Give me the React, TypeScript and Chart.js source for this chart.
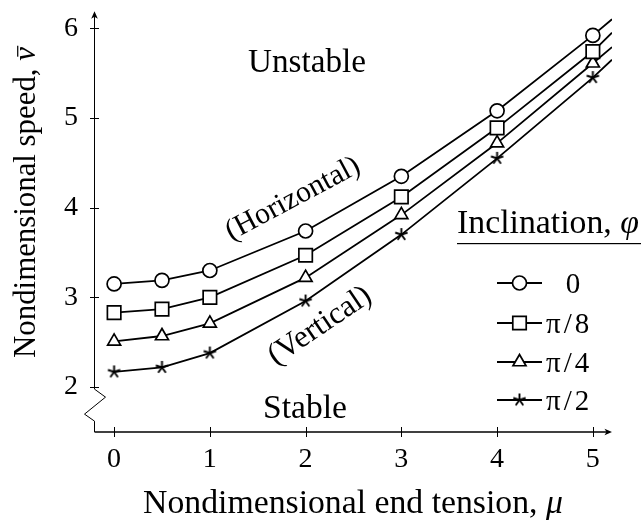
import React, { useEffect, useRef } from 'react';
import { Chart, registerables } from 'chart.js';

Chart.register(...registerables);

// ---- data ----
const tensionMu = [0, 0.5, 1, 2, 3, 4, 5, 5.2];
// the last value of every series is only the continuation of the curve (no marker)
const hasMarker = [true, true, true, true, true, true, true, false];
const speedPhi0 = [3.15, 3.19, 3.3, 3.74, 4.35, 5.08, 5.92, 6.1];
const speedPhiPi8 = [2.83, 2.87, 3.0, 3.47, 4.12, 4.89, 5.74, 5.95];
const speedPhiPi4 = [2.51, 2.57, 2.71, 3.22, 3.92, 4.72, 5.61, 5.79];
const speedPhiPi2 = [2.17, 2.22, 2.38, 2.96, 3.7, 4.55, 5.45, 5.65];
const inclinationLabels = ['0', 'π/8', 'π/4', 'π/2'];
const xTicks = [0, 1, 2, 3, 4, 5];
const yTicks = [2, 3, 4, 5, 6];

const SERIF = '"Liberation Serif", "Times New Roman", "DejaVu Serif", serif';

type Part = { t: string; italic?: boolean; bar?: boolean };

function partsWidth(ctx: CanvasRenderingContext2D, parts: Part[], size: number) {
  let w = 0;
  for (const p of parts) {
    ctx.font = `${p.italic ? 'italic ' : ''}${size}px ${SERIF}`;
    w += ctx.measureText(p.t).width;
  }
  return w;
}

function fitSize(ctx: CanvasRenderingContext2D, parts: Part[], target: number, base = 32) {
  return (base * target) / partsWidth(ctx, parts, base);
}

function drawParts(
  ctx: CanvasRenderingContext2D,
  parts: Part[],
  size: number,
  x: number,
  y: number,
  align: 'left' | 'center'
) {
  const total = partsWidth(ctx, parts, size);
  let cx = align === 'center' ? x - total / 2 : x;
  ctx.textAlign = 'left';
  ctx.textBaseline = 'alphabetic';
  for (const p of parts) {
    ctx.font = `${p.italic ? 'italic ' : ''}${size}px ${SERIF}`;
    ctx.fillText(p.t, cx, y);
    const w = ctx.measureText(p.t).width;
    if (p.bar) {
      const by = y - size * 0.58;
      ctx.fillRect(cx + w * 0.3, by, w * 0.8, Math.max(1, size * 0.04));
    }
    cx += w;
  }
}

function drawRotated(
  ctx: CanvasRenderingContext2D,
  text: string,
  targetWidth: number,
  cx: number,
  cy: number,
  deg: number
) {
  const parts = [{ t: text }];
  const size = fitSize(ctx, parts, targetWidth);
  ctx.save();
  ctx.translate(cx, cy);
  ctx.rotate((deg * Math.PI) / 180);
  ctx.font = `${size}px ${SERIF}`;
  ctx.textAlign = 'center';
  ctx.textBaseline = 'middle';
  ctx.fillText(text, 0, 0);
  ctx.restore();
}

function makeStar(arm: number, lw: number) {
  const size = Math.ceil(2 * arm + 2 * lw + 2);
  const c = document.createElement('canvas');
  c.width = size;
  c.height = size;
  const g = c.getContext('2d')!;
  g.strokeStyle = '#000';
  g.lineWidth = lw;
  const cx = size / 2;
  const cy = size / 2;
  g.beginPath();
  for (let k = 0; k < 5; k++) {
    const a = -Math.PI / 2 + (k * 2 * Math.PI) / 5;
    g.moveTo(cx, cy);
    g.lineTo(cx + arm * Math.cos(a), cy + arm * Math.sin(a));
  }
  g.stroke();
  return c;
}

function drawMarker(ctx: CanvasRenderingContext2D, style: any, r: number, x: number, y: number) {
  if (style && typeof style === 'object') {
    ctx.drawImage(style, x - style.width / 2, y - style.height / 2);
    return;
  }
  ctx.save();
  ctx.fillStyle = '#fff';
  ctx.strokeStyle = '#000';
  ctx.lineWidth = 1.7;
  ctx.beginPath();
  if (style === 'circle') {
    ctx.arc(x, y, r, 0, Math.PI * 2);
  } else if (style === 'rect') {
    const s = Math.SQRT1_2 * r;
    ctx.rect(x - s, y - s, 2 * s, 2 * s);
  } else if (style === 'triangle') {
    for (let k = 0; k < 3; k++) {
      const a = (k * 2 * Math.PI) / 3;
      const px = x + Math.sin(a) * r;
      const py = y - Math.cos(a) * r;
      if (k === 0) ctx.moveTo(px, py);
      else ctx.lineTo(px, py);
    }
    ctx.closePath();
  }
  ctx.fill();
  ctx.stroke();
  ctx.restore();
}

const decorPlugin = {
  id: 'decor',
  beforeDatasetsDraw(chart: any) {
    const { ctx, chartArea, scales } = chart;
    const xs = scales.x;
    const ys = scales.y;
    const ax = Math.floor(chartArea.left) + 0.5;
    const ay = chartArea.bottom;
    const top = chartArea.top;
    const right = chartArea.right;
    const yBreak = ys.getPixelForValue(yTicks[0]);
    ctx.save();
    ctx.strokeStyle = '#000';
    ctx.fillStyle = '#000';
    // x axis
    ctx.lineWidth = 1.3;
    ctx.beginPath();
    ctx.moveTo(ax, ay);
    ctx.lineTo(right - 4, ay);
    ctx.stroke();
    ctx.beginPath();
    ctx.moveTo(right, ay);
    ctx.lineTo(right - 7.5, ay - 3.3);
    ctx.lineTo(right - 5.5, ay);
    ctx.lineTo(right - 7.5, ay + 3.3);
    ctx.closePath();
    ctx.fill();
    // y axis with break symbol
    ctx.lineWidth = 1;
    ctx.beginPath();
    ctx.moveTo(ax, top + 4);
    ctx.lineTo(ax, yBreak + 2);
    ctx.lineTo(ax + 11, yBreak + 10);
    ctx.lineTo(ax - 10, yBreak + 27);
    ctx.lineTo(ax, yBreak + 34);
    ctx.lineTo(ax, ay);
    ctx.stroke();
    ctx.beginPath();
    ctx.moveTo(ax, top);
    ctx.lineTo(ax - 3.3, top + 7.5);
    ctx.lineTo(ax, top + 5.5);
    ctx.lineTo(ax + 3.3, top + 7.5);
    ctx.closePath();
    ctx.fill();
    // tick marks
    for (const v of xTicks) {
      const px = Math.round(xs.getPixelForValue(v)) + 0.5;
      ctx.beginPath();
      ctx.moveTo(px, ay - 5);
      ctx.lineTo(px, ay + 5);
      ctx.stroke();
    }
    for (const v of yTicks) {
      const py = Math.round(ys.getPixelForValue(v)) + 0.5;
      ctx.beginPath();
      ctx.moveTo(ax - 4.5, py);
      ctx.lineTo(ax + 4.5, py);
      ctx.stroke();
    }
    ctx.restore();
  },
  afterDraw(chart: any) {
    const ctx: CanvasRenderingContext2D = chart.ctx;
    ctx.save();
    ctx.fillStyle = '#000';

    // axis titles
    const yTitle: Part[] = [{ t: 'Nondimensional speed, ' }, { t: 'v', italic: true, bar: true }];
    ctx.save();
    ctx.translate(35, 202.5);
    ctx.rotate(-Math.PI / 2);
    drawParts(ctx, yTitle, fitSize(ctx, yTitle, 311), 0, 0, 'center');
    ctx.restore();

    const xTitle: Part[] = [{ t: 'Nondimensional end tension, ' }, { t: 'μ', italic: true }];
    drawParts(ctx, xTitle, fitSize(ctx, xTitle, 420), 353, 513, 'center');

    // region labels
    const un: Part[] = [{ t: 'Unstable' }];
    drawParts(ctx, un, fitSize(ctx, un, 118), 307, 72, 'center');
    const st: Part[] = [{ t: 'Stable' }];
    drawParts(ctx, st, fitSize(ctx, st, 84), 305, 418, 'center');

    drawRotated(ctx, '(Horizontal)', 148, 293, 199, -28);
    drawRotated(ctx, '(Vertical)', 118, 320, 326, -34);

    // legend
    const lt: Part[] = [{ t: 'Inclination, ' }, { t: 'φ', italic: true }];
    drawParts(ctx, lt, fitSize(ctx, lt, 182), 457, 233, 'left');
    ctx.fillRect(457, 243, 184, 1.2);

    const legendYs = [283, 323, 362, 400];
    chart.data.datasets.forEach((ds: any, i: number) => {
      const yy = legendYs[i];
      ctx.strokeStyle = '#000';
      ctx.lineWidth = 1.8;
      ctx.beginPath();
      ctx.moveTo(497, yy);
      ctx.lineTo(542, yy);
      ctx.stroke();
      const r = Array.isArray(ds.pointRadius) ? ds.pointRadius[0] : ds.pointRadius;
      drawMarker(ctx, ds.pointStyle, r, 519.5, yy);
      ctx.font = `29px ${SERIF}`;
      ctx.textBaseline = 'alphabetic';
      if (ds.label === '0') {
        ctx.textAlign = 'center';
        ctx.fillText(ds.label, 573, yy + 9.5);
      } else {
        ctx.textAlign = 'left';
        (ctx as any).letterSpacing = '3px';
        ctx.fillText(ds.label, 546, yy + 9.5);
        (ctx as any).letterSpacing = '0px';
      }
    });
    ctx.restore();
  },
};

export default function App() {
  const ref = useRef<HTMLCanvasElement>(null);

  useEffect(() => {
    const canvas = ref.current;
    if (!canvas) return;
    const star = makeStar(6.5, 1.9);
    const markers: { style: any; r: number }[] = [
      { style: 'circle', r: 7 },
      { style: 'rect', r: 9.5 },
      { style: 'triangle', r: 7.5 },
      { style: star, r: 6.5 },
    ];
    const series = [speedPhi0, speedPhiPi8, speedPhiPi4, speedPhiPi2];
    const tickFont = { family: SERIF, size: 28 };

    const chart = new Chart(canvas, {
      type: 'line',
      data: {
        datasets: series.map((vals, i) => ({
          label: inclinationLabels[i],
          data: tensionMu.map((m, j) => ({ x: m, y: vals[j] })),
          borderColor: '#000',
          borderWidth: 1.8,
          backgroundColor: '#fff',
          fill: false,
          tension: 0,
          pointStyle: markers[i].style,
          pointRadius: hasMarker.map((h) => (h ? markers[i].r : 0)),
          pointBorderColor: '#000',
          pointBackgroundColor: '#fff',
          pointBorderWidth: 1.7,
        })),
      },
      options: {
        responsive: false,
        animation: false,
        events: [],
        devicePixelRatio: 1,
        layout: { padding: { left: 0, right: 32, top: 3, bottom: 0 } },
        plugins: { legend: { display: false }, tooltip: { enabled: false } },
        scales: {
          x: {
            type: 'linear',
            position: 'bottom',
            min: -0.21,
            max: 5.2,
            grid: { display: false, drawTicks: false },
            border: { display: false },
            ticks: { font: tickFont, color: '#000', padding: 11, maxRotation: 0, autoSkip: false },
            afterBuildTicks: (s: any) => {
              s.ticks = xTicks.map((v) => ({ value: v }));
            },
            afterFit: (s: any) => {
              s.height = 90;
              s.paddingLeft = 0;
              s.paddingRight = 0;
              s.paddingTop = 0;
              s.paddingBottom = 0;
            },
          },
          y: {
            type: 'linear',
            position: 'left',
            min: 1.5,
            max: 6.19,
            grid: { display: false, drawTicks: false },
            border: { display: false },
            ticks: { font: tickFont, color: '#000', padding: 16, autoSkip: false },
            afterBuildTicks: (s: any) => {
              s.ticks = yTicks.map((v) => ({ value: v }));
            },
            afterFit: (s: any) => {
              s.width = 94;
              s.paddingLeft = 0;
              s.paddingRight = 0;
              s.paddingTop = 0;
              s.paddingBottom = 0;
            },
          },
        },
      } as any,
      plugins: [decorPlugin as any],
    });
    return () => chart.destroy();
  }, []);

  return (
    <div style={{ position: 'fixed', left: 0, top: 0, width: 644, height: 522, background: '#fff' }}>
      <canvas ref={ref} width={644} height={522} style={{ display: 'block', width: 644, height: 522 }} />
    </div>
  );
}
